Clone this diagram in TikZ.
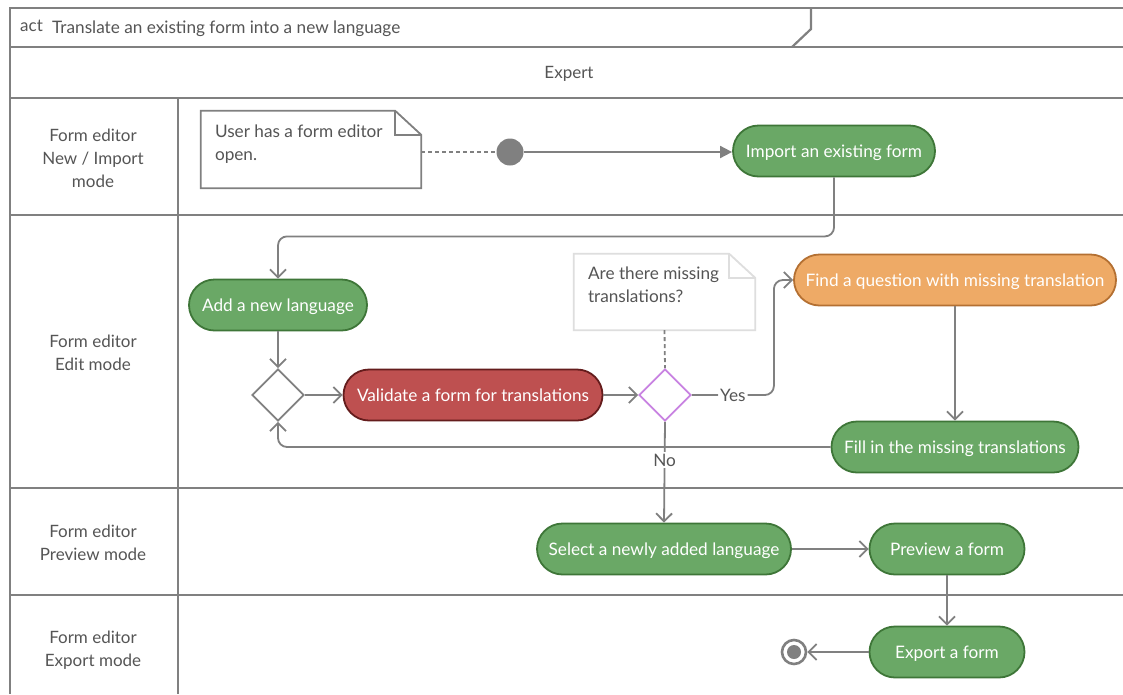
\documentclass[tikz,border=0pt]{standalone}
\usepackage{fontspec}
\setmainfont{Lato}
\usetikzlibrary{arrows.meta,shapes.geometric,calc}

\definecolor{frameline}{RGB}{128,128,128}
\definecolor{labeltext}{RGB}{85,85,85}
\definecolor{actgreen}{RGB}{106,168,102}
\definecolor{actgreenline}{RGB}{62,118,56}
\definecolor{actred}{RGB}{190,80,80}
\definecolor{actredline}{RGB}{100,28,28}
\definecolor{actorange}{RGB}{238,170,102}
\definecolor{actorangeline}{RGB}{180,112,50}
\definecolor{decpurple}{RGB}{200,130,225}
\definecolor{notelight}{RGB}{222,222,222}

\tikzset{
  lane/.style={draw=frameline, line width=2.2pt},
  lanelabel/.style={text=labeltext, align=center, font=\fontsize{17}{23}\selectfont},
  activity/.style={rounded corners=25.5pt, minimum height=51pt, inner sep=0pt,
    text height=12pt, text depth=0pt,
    line width=1.8pt, text=white, font=\fontsize{17.2}{20}\selectfont},
  greenact/.style={activity, fill=actgreen, draw=actgreenline},
  redact/.style={activity, fill=actred, draw=actredline},
  orangeact/.style={activity, fill=actorange, draw=actorangeline},
  decision/.style={diamond, aspect=1, minimum width=52pt, minimum height=52pt,
    inner sep=0pt, line width=1.8pt, fill=white},
  flow/.style={draw=frameline, line width=1.8pt,
    -{Straight Barb[length=8pt,width=16pt,line width=1.8pt]}},
  noteline/.style={draw=frameline, line width=1.8pt, dashed, dash pattern=on 4pt off 3pt},
  notetext/.style={anchor=north west, align=left, text=labeltext, inner sep=0pt,
    font=\fontsize{17.2}{23}\selectfont},
  guard/.style={fill=white, text=labeltext, inner sep=2pt, font=\fontsize{17.2}{20}\selectfont}
}

\begin{document}
\begin{tikzpicture}[x=1pt, y=-1pt]
\useasboundingbox (0,0) rectangle (1123,694);
\fill[white] (0,0) rectangle (1123,694);

% frame, header and lanes
\draw[lane] (1123,8) -- (10,8) -- (10,694);
\draw[lane] (10,47) -- (1123,47);
\draw[lane] (811,8) -- (811,29) -- (792,47);
\draw[lane] (10,98) -- (1123,98);
\draw[lane] (10,215) -- (1123,215);
\draw[lane] (10,488) -- (1123,488);
\draw[lane] (10,595) -- (1123,595);
\draw[lane] (178,98) -- (178,694);

\node[anchor=base west, inner sep=0pt, text=labeltext, font=\fontsize{17}{19}\selectfont] (act) at (20,31) {act};
\node[anchor=base west, inner sep=0pt, text=labeltext, font=\fontsize{17.2}{19}\selectfont] (title) at (52,33) {Translate an existing form into a new language};
\node[lanelabel] (expert) at (569,74) {Expert};

\node[lanelabel] (laneA) at (93,158) {Form editor\\New / Import\\mode};
\node[lanelabel] (laneB) at (93,353) {Form editor\\Edit mode};
\node[lanelabel] (laneC) at (93,543) {Form editor\\Preview mode};
\node[lanelabel] (laneD) at (93,650) {Form editor\\Export mode};

% notes
\node[minimum width=220pt, minimum height=77pt, inner sep=0pt] (note1) at (311,149.5) {};
\draw[draw=frameline, line width=1.8pt, line join=miter]
  (note1.north west) -- ([xshift=-26pt]note1.north east) -- ([yshift=-24pt]note1.north east)
  -- (note1.south east) -- (note1.south west) -- cycle;
\draw[draw=frameline, line width=1.8pt]
  ([xshift=-26pt]note1.north east) -- ([xshift=-26pt,yshift=-24pt]note1.north east)
  -- ([yshift=-24pt]note1.north east);
\node[notetext] (note1text) at ([shift={(14,14)}]note1.north west) {User has a form editor\\open.};

\node[minimum width=181pt, minimum height=76pt, inner sep=0pt] (note2) at (664.5,292) {};
\draw[draw=notelight, line width=1.8pt, line join=miter, fill=white]
  (note2.north west) -- ([xshift=-26pt]note2.north east) -- ([yshift=-24pt]note2.north east)
  -- (note2.south east) -- (note2.south west) -- cycle;
\draw[draw=notelight, line width=1.8pt]
  ([xshift=-26pt]note2.north east) -- ([xshift=-26pt,yshift=-24pt]note2.north east)
  -- ([yshift=-24pt]note2.north east);
\node[notetext] (note2text) at ([shift={(14,13)}]note2.north west) {Are there missing\\translations?};

% activity nodes
\node[circle, fill=frameline, minimum size=27pt, inner sep=0pt] (init) at (510,152) {};
\node[greenact, minimum width=202pt] (imp) at (834,151) {Import an existing form};
\node[greenact, minimum width=178pt] (add) at (278,305) {Add a new language};
\node[decision, draw=frameline] (merge) at (278,395) {};
\node[redact, minimum width=259pt] (val) at (473,395) {Validate a form for translations};
\node[decision, draw=decpurple] (check) at (665,395) {};
\node[orangeact, minimum width=322pt] (find) at (955,280) {Find a question with missing translation};
\node[greenact, minimum width=247pt] (fill) at (955,447) {Fill in the missing translations};
\node[greenact, minimum width=254pt] (sel) at (664,549) {Select a newly added language};
\node[greenact, minimum width=155pt] (prev) at (947,549) {Preview a form};
\node[greenact, minimum width=155pt] (exp) at (947,652) {Export a form};
\node[circle, draw=frameline, line width=2.6pt, fill=white, minimum size=24pt, inner sep=0pt] (fin) at (794,652) {};
\fill[frameline] (fin.center) circle (7pt);

% note anchors
\draw[noteline] (note1.east |- init.west) -- (init.west);
\draw[noteline] (note2.south) -- (check.north);

% control flows
\draw[draw=frameline, line width=1.8pt, -{Triangle[length=12pt,width=12pt]}] (init.east) -- (imp.west |- init.east);
\draw[flow, rounded corners=9pt] (imp.south) -- ++(0,59) -| (add.north);
\draw[flow] (add.south) -- (merge.north);
\draw[flow] (merge.east) -- (val.west);
\draw[flow] (val.east) -- (check.west);
\draw[flow, rounded corners=9pt] (check.east) -- node[guard] (yes) {Yes} ++(82,0) |- (find.west);
\draw[flow] (find.south) -- (fill.north);
\draw[flow, rounded corners=9pt] (fill.west) -| (merge.south);
\draw[flow] (check.south) -- node[guard, pos=0.38] (no) {No} (sel.north);
\draw[flow] (sel.east) -- (prev.west);
\draw[flow] (prev.south) -- (exp.north);
\draw[flow] (exp.west) -- (fin.east);
\end{tikzpicture}
\end{document}
